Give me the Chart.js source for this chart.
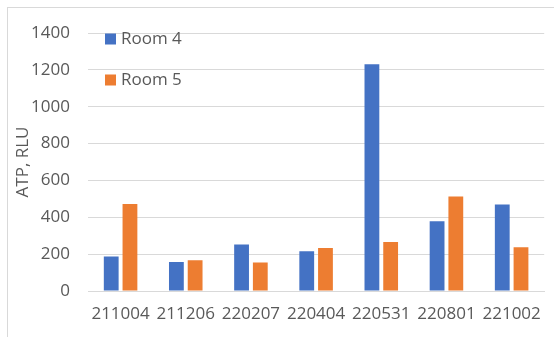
<!DOCTYPE html>
<html>
<head>
<meta charset="utf-8">
<script src="https://cdn.jsdelivr.net/npm/chart.js@4/dist/chart.umd.min.js"></script>
<style>
  html, body { margin: 0; padding: 0; background: #fff; }
  #wrap { position: relative; width: 554px; height: 337px; overflow: hidden; }
  #frame { position: absolute; left: 7px; top: 7px; width: 600px; height: 400px; border: 1px solid #d9d9d9; box-sizing: border-box; }
  canvas { position: absolute; left: 0; top: 0; }
</style>
</head>
<body>
<div id="wrap">
  <div id="frame"></div>
  <canvas id="atpChart" width="554" height="337"></canvas>
</div>
<script>
// sampling dates and ATP readings per room
const dates = ['211004', '211206', '220207', '220404', '220531', '220801', '221002'];
const room4 = [187, 157, 252, 216, 1230, 378, 470];
const room5 = [472, 167, 155, 233, 266, 513, 238];
const yTicks = [0, 200, 400, 600, 800, 1000, 1200, 1400];

const FONT = '"Open Sans", "Liberation Sans", sans-serif';
const GREY = '#595959';

// legend drawn inside the plot, stacked vertically
const innerLegend = {
    id: 'innerLegend',
    afterDraw(chart) {
        const ctx = chart.ctx;
        ctx.save();
        ctx.font = '17px ' + FONT;
        ctx.textBaseline = 'middle';
        chart.data.datasets.forEach((ds, i) => {
            const y = 39 + i * 41;
            ctx.fillStyle = ds.backgroundColor;
            ctx.fillRect(105, y - 5.5, 11, 11);
            ctx.fillStyle = GREY;
            ctx.fillText(ds.label, 121, y);
        });
        ctx.restore();
    }
};

new Chart(document.getElementById('atpChart'), {
    type: 'bar',
    data: {
        labels: dates,
        datasets: [
            { label: 'Room 4', data: room4, backgroundColor: '#4472c4' },
            { label: 'Room 5', data: room5, backgroundColor: '#ed7d31' }
        ]
    },
    options: {
        responsive: false,
        animation: false,
        devicePixelRatio: 1,
        layout: { padding: { top: 33, right: 3, bottom: 0, left: 0 } },
        datasets: { bar: { categoryPercentage: 0.575, barPercentage: 0.79 } },
        plugins: { legend: { display: false }, tooltip: { enabled: false } },
        scales: {
            x: {
                grid: { display: false, drawTicks: false },
                border: { color: '#d9d9d9' },
                ticks: { color: GREY, font: { family: FONT, size: 17 }, padding: 13, maxRotation: 0 },
                afterFit(s) { s.height = 46; }
            },
            y: {
                min: 0,
                max: 1400,
                afterBuildTicks(s) { s.ticks = yTicks.map(v => ({ value: v })); },
                grid: { color: '#d9d9d9', drawTicks: false },
                border: { display: false },
                ticks: { color: GREY, font: { family: FONT, size: 17 }, padding: 18, callback: v => String(v) },
                title: { display: true, text: 'ATP, RLU', color: GREY, font: { family: FONT, size: 17 }, padding: { top: 13, bottom: 0 } },
                afterFit(s) { s.width = 88; }
            }
        }
    },
    plugins: [innerLegend]
});
</script>
</body>
</html>
